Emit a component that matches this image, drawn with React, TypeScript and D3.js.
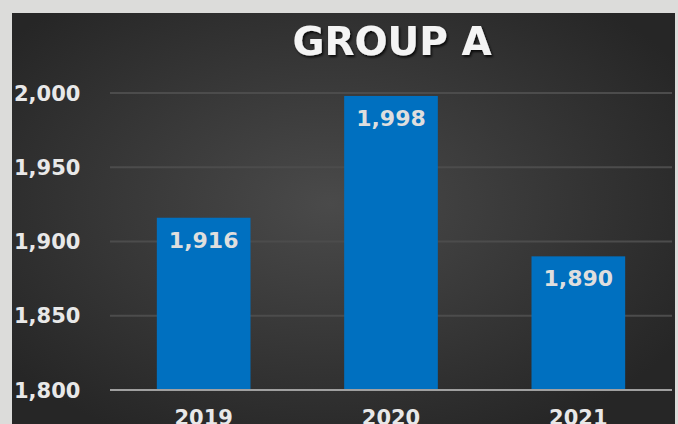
import * as d3 from 'd3';

const years = ['2019', '2020', '2021'];
const values = [1916, 1998, 1890];
const yTicks = [1800, 1850, 1900, 1950, 2000];
const title = 'GROUP A';

const W = 678;
const H = 424;
const margin = { top: 93, right: 6, bottom: 34, left: 110 };
const font = "'DejaVu Sans', Verdana, sans-serif";

export default function App() {
  const x = d3.scaleBand<string>()
    .domain(years)
    .range([margin.left, W - margin.right])
    .paddingInner(0.5)
    .paddingOuter(0.25);

  const y = d3.scaleLinear()
    .domain([1800, 2000])
    .range([H - margin.bottom, margin.top]);

  const fmt = d3.format(',');

  return (
    <svg width={W} height={H} style={{ position: 'fixed', left: 0, top: 0, display: 'block' }}>
      <defs>
        <radialGradient id="bg" cx="0.48" cy="0.45" r="0.62">
          <stop offset="0" stopColor="#4a4a4a" />
          <stop offset="1" stopColor="#262626" />
        </radialGradient>
        <filter id="shadow" x="-10%" y="-20%" width="120%" height="150%">
          <feDropShadow dx="1.5" dy="2" stdDeviation="1.2" floodColor="#000" floodOpacity="0.8" />
        </filter>
      </defs>
      <rect x={0} y={0} width={W} height={H} fill="#dcdcda" />
      <rect x={12} y={13} width={663} height={H} fill="url(#bg)" />

      {yTicks.filter(t => t > 1800).map(t => (
        <line key={t} x1={margin.left} x2={672} y1={y(t)} y2={y(t)} stroke="#4c4c4c" strokeWidth={2} />
      ))}

      {years.map((yr, i) => (
        <rect key={yr} x={x(yr)} y={y(values[i])} width={x.bandwidth()} height={y(1800) - y(values[i])} fill="#0070c0" />
      ))}

      <line x1={margin.left} x2={672} y1={y(1800)} y2={y(1800)} stroke="#a0a0a0" strokeWidth={2} />

      {yTicks.map(t => (
        <text key={t} x={14} y={y(t)} dy="0.36em" fill="#e8e8e8" fontFamily={font} fontWeight="bold" fontSize={21}>
          {fmt(t)}
        </text>
      ))}

      {years.map((yr, i) => (
        <text key={yr} x={(x(yr) ?? 0) + x.bandwidth() / 2} y={y(values[i]) + 30} textAnchor="middle"
          fill="#dedede" fontFamily={font} fontWeight="bold" fontSize={22}>
          {fmt(values[i])}
        </text>
      ))}

      {years.map(yr => (
        <text key={yr} x={(x(yr) ?? 0) + x.bandwidth() / 2} y={H + 1} textAnchor="middle"
          fill="#e8e8e8" fontFamily={font} fontWeight="bold" fontSize={21}>
          {yr}
        </text>
      ))}

      <text x={392} y={55} textAnchor="middle" fill="#f4f4f4" fontFamily={font} fontWeight="bold" fontSize={39}
        filter="url(#shadow)">
        {title}
      </text>
    </svg>
  );
}
